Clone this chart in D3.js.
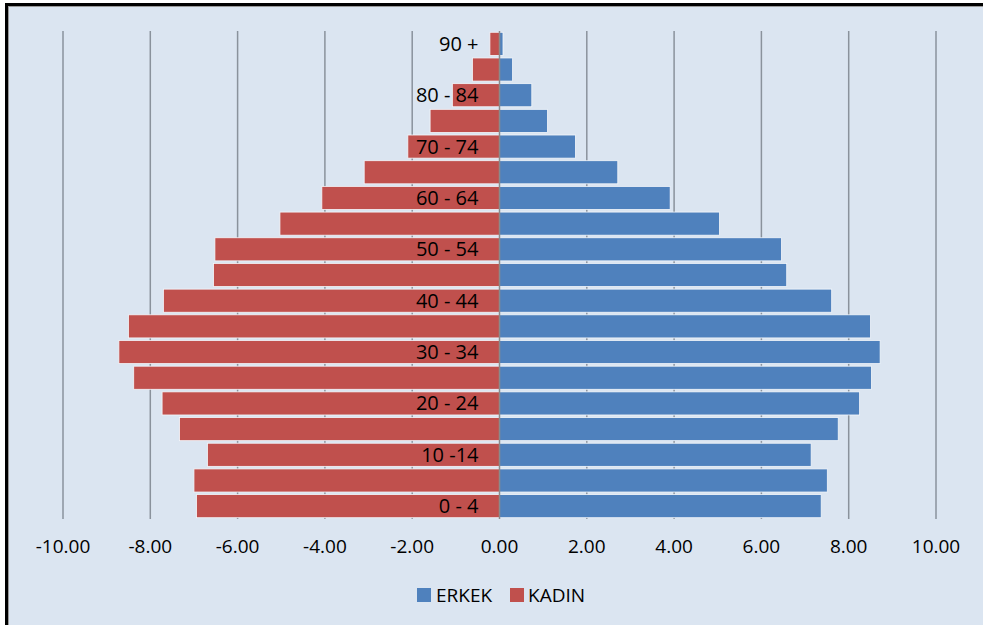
<!DOCTYPE html>
<html>
<head>
<meta charset="utf-8">
<script src="https://cdn.jsdelivr.net/npm/d3@7/dist/d3.min.js"></script>
<style>
  html, body { margin: 0; padding: 0; background: #ffffff; }
  svg { display: block; }
  text { font-family: "Open Sans", "Noto Sans", sans-serif; fill: #000; }
</style>
</head>
<body>
<svg id="chart" width="983" height="625"></svg>
<script>
// Age groups, bottom to top
const categories = ["0 - 4", "5 - 9", "10 -14", "15 - 19", "20 - 24", "25 - 29", "30 - 34",
  "35 - 39", "40 - 44", "45 - 49", "50 - 54", "55 - 59", "60 - 64", "65 - 69",
  "70 - 74", "75 - 79", "80 - 84", "85 - 89", "90 +"];
// Only every other category label is shown on the chart
const shownLabels = ["0 - 4", "10 -14", "20 - 24", "30 - 34", "40 - 44", "50 - 54",
  "60 - 64", "70 - 74", "80 - 84", "90 +"];
const erkek = [7.37, 7.51, 7.14, 7.76, 8.25, 8.52, 8.72, 8.50, 7.61, 6.58, 6.46, 5.04,
  3.91, 2.71, 1.74, 1.10, 0.74, 0.30, 0.08];
const kadin = [-6.94, -7.00, -6.69, -7.33, -7.73, -8.38, -8.72, -8.50, -7.70, -6.55, -6.52,
  -5.03, -4.07, -3.10, -2.10, -1.59, -1.08, -0.62, -0.22];
const xTicks = [-10, -8, -6, -4, -2, 0, 2, 4, 6, 8, 10];
const seriesNames = ["ERKEK", "KADIN"];
const colors = { ERKEK: "#4f81bd", KADIN: "#c0504d" };

const svg = d3.select("#chart");
const W = 983, H = 625;

// Frame and background
svg.append("rect").attr("x", 8).attr("y", 6).attr("width", W - 8).attr("height", H - 6)
  .attr("fill", "#dbe5f1");
svg.append("rect").attr("x", 5).attr("y", 3).attr("width", 3).attr("height", H - 3).attr("fill", "#000");
svg.append("rect").attr("x", 5).attr("y", 3).attr("width", W - 5).attr("height", 3).attr("fill", "#000");
svg.append("rect").attr("x", 8).attr("y", 6).attr("width", 1).attr("height", H - 6).attr("fill", "#9a9a9a");
svg.append("rect").attr("x", 8).attr("y", 6).attr("width", W - 8).attr("height", 1).attr("fill", "#9a9a9a");

const plotTop = 31, plotBottom = 519;
const x = d3.scaleLinear().domain([-10, 10]).range([63, 936]);
const y = d3.scaleBand().domain(categories.slice().reverse()).range([plotTop, plotBottom])
  .paddingInner(0.1).paddingOuter(0.05);

// Gridlines
svg.append("g").selectAll("line").data(xTicks.filter(d => d !== 0)).join("line")
  .attr("x1", d => x(d)).attr("x2", d => x(d))
  .attr("y1", plotTop).attr("y2", plotBottom)
  .attr("stroke", "#8a929c").attr("stroke-width", 1.5);

// Bars
const rows = categories.map((c, i) => ({ c, e: erkek[i], k: kadin[i] }));
const bars = svg.append("g");
bars.selectAll("rect.k").data(rows).join("rect").attr("class", "k")
  .attr("x", d => x(d.k)).attr("width", d => x(0) - x(d.k))
  .attr("y", d => y(d.c)).attr("height", y.bandwidth())
  .attr("fill", colors.KADIN).attr("stroke", "#f4f7fb").attr("stroke-width", 0.8);
bars.selectAll("rect.e").data(rows).join("rect").attr("class", "e")
  .attr("x", x(0)).attr("width", d => x(d.e) - x(0))
  .attr("y", d => y(d.c)).attr("height", y.bandwidth())
  .attr("fill", colors.ERKEK).attr("stroke", "#f4f7fb").attr("stroke-width", 0.8);

// Central axis line
svg.append("line").attr("x1", x(0)).attr("x2", x(0)).attr("y1", plotTop).attr("y2", plotBottom)
  .attr("stroke", "#8a8a8a").attr("stroke-width", 1.5);

// Category labels
svg.append("g").selectAll("text").data(shownLabels).join("text")
  .attr("x", x(0) - 21)
  .attr("y", d => y(d) + y.bandwidth() / 2 + 7)
  .attr("text-anchor", "end")
  .attr("font-size", 20)
  .text(d => d);

// X axis tick labels (plain hyphen-minus, as in the original)
const fmt = v => (v < 0 ? "-" : "") + Math.abs(v).toFixed(2);
svg.append("g").selectAll("text").data(xTicks).join("text")
  .attr("x", d => x(d)).attr("y", 553)
  .attr("text-anchor", "middle").attr("font-size", 19)
  .text(d => fmt(d));

// Legend
const legend = svg.append("g");
const legendItems = [{ n: "ERKEK", sx: 417, tx: 436 }, { n: "KADIN", sx: 510, tx: 528 }];
legend.selectAll("rect").data(legendItems).join("rect")
  .attr("x", d => d.sx).attr("y", 588).attr("width", 14).attr("height", 14)
  .attr("fill", d => colors[d.n]);
legend.selectAll("text").data(legendItems).join("text")
  .attr("x", d => d.tx).attr("y", 602).attr("font-size", 19)
  .text(d => d.n);
</script>
</body>
</html>
